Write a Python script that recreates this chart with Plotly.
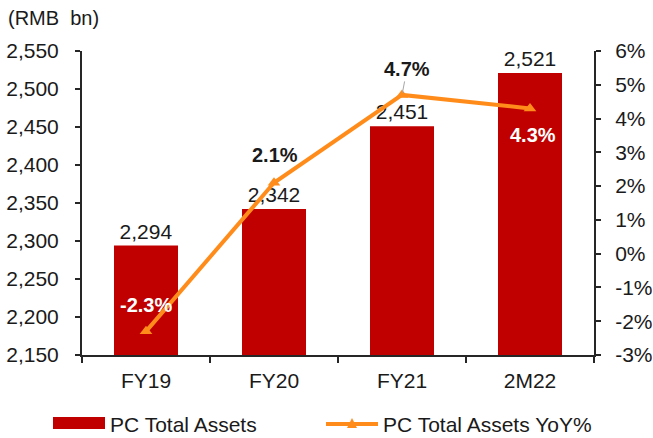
import plotly.graph_objects as go

categories = ["FY19", "FY20", "FY21", "2M22"]
total_assets = [2294, 2342, 2451, 2521]
yoy_pct = [-2.3, 2.1, 4.7, 4.3]
yoy_labels = ["-2.3%", "2.1%", "4.7%", "4.3%"]
left_ticks = [2150, 2200, 2250, 2300, 2350, 2400, 2450, 2500, 2550]
right_ticks = [-3, -2, -1, 0, 1, 2, 3, 4, 5, 6]
right_tick_text = ["-3%", "-2%", "-1%", "0%", "1%", "2%", "3%", "4%", "5%", "6%"]
series_names = ["PC Total Assets", "PC Total Assets YoY%"]

FONT = "Liberation Sans, Arial, sans-serif"
BAR_C = "#C00000"
LINE_C = "#FF8C1A"
AX_C = "#262626"
TXT_C = "#1a1a1a"
FS = 21
FSB = 20

# plot area in pixels
L, R, T, B = 82, 594, 51, 355
W, H = R - L, B - T


def px(x):
    return (x - L) / W


def py(y):
    return (B - y) / H


fig = go.Figure()
fig.add_trace(go.Bar(
    x=categories, y=total_assets, name=series_names[0],
    marker=dict(color=BAR_C, line=dict(width=0)), width=0.5,
    texttemplate="%{y:,}", textposition="outside",
    textfont=dict(family=FONT, size=FS, color=TXT_C),
    cliponaxis=False, showlegend=False,
))
fig.add_trace(go.Scatter(
    x=categories, y=yoy_pct, name=series_names[1], yaxis="y2",
    mode="lines+markers",
    line=dict(color=LINE_C, width=4),
    marker=dict(symbol="triangle-up", size=11, color=LINE_C),
    cliponaxis=False, showlegend=False,
))

# line labels
offsets = [(0, 26, "white"), (1, 28, TXT_C), None, (3, -27, "white")]
for i, (c, v, t) in enumerate(zip(categories, yoy_pct, yoy_labels)):
    if offsets[i] is None:
        fig.add_annotation(x=c, y=v, xref="x", yref="y2", text="<b>" + t + "</b>",
                           showarrow=True, arrowhead=0, arrowwidth=1, arrowcolor="#A6A6A6",
                           ax=5, ay=-26, standoff=2,
                           font=dict(family=FONT, size=FSB, color=TXT_C))
    else:
        dx, dy, col = offsets[i]
        fig.add_annotation(x=c, y=v, xref="x", yref="y2", text="<b>" + t + "</b>",
                           showarrow=False, xshift=dx, yshift=dy,
                           font=dict(family=FONT, size=FSB, color=col))

# unit label
fig.add_annotation(x=px(6), y=py(18), xref="paper", yref="paper",
                   text="(RMB  bn)", showarrow=False, xanchor="left", yanchor="middle",
                   font=dict(family=FONT, size=FSB, color=TXT_C))

# legend (manual, to match wide swatches)
shapes = [
    dict(type="rect", xref="paper", yref="paper", x0=px(53), x1=px(105),
         y0=py(429), y1=py(417), fillcolor=BAR_C, line=dict(width=0)),
    dict(type="line", xref="paper", yref="paper", x0=px(326), x1=px(378),
         y0=py(424), y1=py(424), line=dict(color=LINE_C, width=4)),
    dict(type="path", xref="paper", yref="paper",
         path=f"M {px(347)} {py(428)} L {px(357)} {py(428)} L {px(352)} {py(418)} Z",
         fillcolor=LINE_C, line=dict(width=0)),
]
fig.add_annotation(x=px(108), y=py(424), xref="paper", yref="paper", text=series_names[0],
                   showarrow=False, xanchor="left", yanchor="middle",
                   font=dict(family=FONT, size=FS, color=TXT_C))
fig.add_annotation(x=px(381), y=py(424), xref="paper", yref="paper", text=series_names[1],
                   showarrow=False, xanchor="left", yanchor="middle",
                   font=dict(family=FONT, size=FS, color=TXT_C))

fig.update_layout(
    width=653, height=438,
    margin=dict(l=L, r=653 - R, t=T, b=438 - B, autoexpand=False),
    paper_bgcolor="white", plot_bgcolor="white",
    font=dict(family=FONT, size=FS, color=TXT_C),
    showlegend=False,
    shapes=shapes,
    xaxis=dict(showline=True, linecolor=AX_C, linewidth=2, ticks="outside",
               tickson="boundaries", ticklen=6, tickcolor=AX_C, tickwidth=2,
               showgrid=False, zeroline=False, automargin=False,
               ticklabelstandoff=6),
    yaxis=dict(range=[2150, 2550], tickvals=left_ticks, tickformat=",",
               showline=True, linecolor=AX_C, linewidth=2, ticks="outside",
               ticklen=5, tickcolor=AX_C, tickwidth=2, showgrid=False,
               zeroline=False, automargin=False, ticklabelstandoff=12),
    yaxis2=dict(range=[-3, 6], tickvals=right_ticks, ticktext=right_tick_text,
                overlaying="y", side="right", showline=True, linecolor=AX_C,
                linewidth=2, ticks="outside", ticklen=5, tickcolor=AX_C, tickwidth=2,
                showgrid=False, zeroline=False, automargin=False, ticklabelstandoff=10),
)

fig.write_html("out.html", config={"displayModeBar": False},
               post_script="document.body.style.margin='0';document.body.style.overflow='hidden';")
